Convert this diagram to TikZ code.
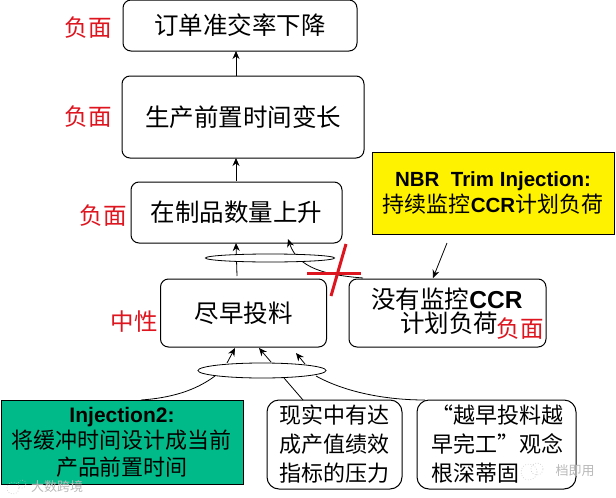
\documentclass[tikz,border=0pt]{standalone}
\usepackage{fontspec}
\setmainfont{Noto Sans CJK SC}
\newfontfamily\latinb{Liberation Sans}[BoldFont={Liberation Sans Bold}]
\usetikzlibrary{arrows.meta,shapes.geometric}
\definecolor{grn}{RGB}{0,187,137}
\definecolor{redt}{RGB}{222,20,30}
\tikzset{
 x=1pt,y=-1pt,
 rbox/.style={draw=black,line width=1pt,rounded corners=8pt,fill=white,inner sep=0pt,align=center,font=\fontsize{24.5}{31}\selectfont},
 smallbox/.style={draw=black,line width=1pt,rounded corners=12pt,fill=white,inner sep=0pt,align=left,font=\fontsize{22}{29}\selectfont},
 plainbox/.style={draw=black,line width=1pt,inner sep=0pt,align=center,font=\fontsize{22}{26.5}\selectfont},
 rlabel/.style={text=redt,inner sep=0pt,font=\fontsize{23.5}{24}\selectfont},
 conn/.style={line width=.8pt,-{Stealth[length=8pt,width=7pt]}},
 link/.style={line width=.8pt},
 elps/.style={draw=black,line width=.8pt,fill=white,ellipse,inner sep=0pt},
 wm/.style={text=gray!55,inner sep=0pt,font=\fontsize{13}{14}\selectfont},
 wmi/.style={draw=gray!50,line width=.6pt,dotted},
 crossl/.style={draw=redt,line width=3pt}
}
\newcommand{\lat}[1]{{\fontsize{20.5}{26.5}\latinb\bfseries #1}}
\begin{document}
\begin{tikzpicture}
\useasboundingbox (0,0) rectangle (616,498);
\fill[white] (0,0) rectangle (616,498);
\node[rbox,minimum width=234pt,minimum height=51pt] (a) at (240,25.5) {订单准交率下降};
\node[rbox,minimum width=242pt,minimum height=82pt] (b) at (243,117) {生产前置时间变长};
\node[rbox,minimum width=211pt,minimum height=61pt] (c) at (236.5,212.5) {在制品数量上升};
\node[rbox,minimum width=166pt,minimum height=68pt] (d) at (243.5,313) {尽早投料};
\node[rbox,minimum width=197pt,minimum height=68pt] (e) at (447.5,313) {};
\node[inner sep=0pt,font=\fontsize{24.5}{24}\selectfont] (e1) at (447,299) {没有监控{\latinb\bfseries CCR}};
\node[inner sep=0pt,font=\fontsize{24.5}{24}\selectfont] (e2) at (449,323) {计划负荷};
\node[plainbox,fill=yellow,minimum width=242pt,minimum height=82pt] (y) at (493,193) {\lat{NBR\ \ Trim Injection:}\\持续监控\lat{CCR}计划负荷};
\node[plainbox,fill=grn,minimum width=242pt,minimum height=84pt] (g) at (122,442) {{\fontsize{21}{26.5}\latinb\bfseries Injection2:}\\将缓冲时间设计成当前\\产品前置时间};
\node[smallbox,minimum width=135pt,minimum height=89pt] (f) at (334.5,444.5) {现实中有达\\成产值绩效\\指标的压力};
\node[smallbox,minimum width=159pt,minimum height=89pt] (h) at (496.5,444.5) {};
\node[inner sep=0pt,align=left,anchor=west,font=\fontsize{22}{29}\selectfont] (ht) at (431,444.5) {“越早投料越\\早完工”观念\\根深蒂固};
\node[rlabel] (l1) at (88,28) {负面};
\node[rlabel] (l2) at (88,117) {负面};
\node[rlabel] (l3) at (103,216) {负面};
\node[rlabel] (l4) at (134,322) {中性};
\node[rlabel] (l5) at (520,329) {负面};
\node[wm] (w1) at (575,471) {档即用};
\node[wm] (w2) at (57,487) {大数跨境};
\draw[wmi] (529,472) circle[radius=8pt];
\draw[wmi] (537,469) circle[radius=6pt];
\draw[wmi] (13,488) circle[radius=6pt];
\draw[wmi] (22,484) circle[radius=4pt];
\coordinate (a1) at (236,76); \coordinate (a2) at (236,51);
\coordinate (b1) at (236,181); \coordinate (b2) at (236,158);
\draw[conn] (a1)--(a2);
\draw[conn] (b1)--(b2);
\coordinate (c1) at (237,276); \coordinate (c2) at (236,243);
\draw[conn] (c1)--(c2);
\coordinate (s1) at (363,278); \coordinate (s2) at (288,239);
\draw[conn] (s1) .. controls (325,275) and (298,268) .. (s2);
\coordinate (n1) at (447,243); \coordinate (n2) at (433,278);
\draw[conn] (n1)--(n2);
\coordinate (d1) at (227,363); \coordinate (d2) at (235,348);
\draw[conn] (d1)--(d2);
\coordinate (d3) at (271,362); \coordinate (d4) at (259,348);
\draw[conn] (d3)--(d4);
\coordinate (d5) at (305,364); \coordinate (d6) at (296,353);
\draw[conn] (d5)--(d6);
\coordinate (q1) at (215,376); \coordinate (q2) at (141,400);
\draw[link] (q1) .. controls (195,391) and (170,398) .. (q2);
\coordinate (q3) at (284,378); \coordinate (q4) at (303,400);
\draw[link] (q3)--(q4);
\coordinate (q5) at (316,376); \coordinate (q6) at (425,400);
\draw[link] (q5) .. controls (345,392) and (385,400) .. (q6);
\node[elps,minimum width=128pt,minimum height=15pt] (el2) at (262,370.5) {};
\node[elps,minimum width=129pt,minimum height=8pt] (el1) at (270,258) {};
\coordinate (r1) at (307,273); \coordinate (r2) at (361,273);
\coordinate (r3) at (346,244); \coordinate (r4) at (331,296);
\draw[crossl] (r1)--(r2);
\draw[crossl] (r3)--(r4);
\end{tikzpicture}
\end{document}
